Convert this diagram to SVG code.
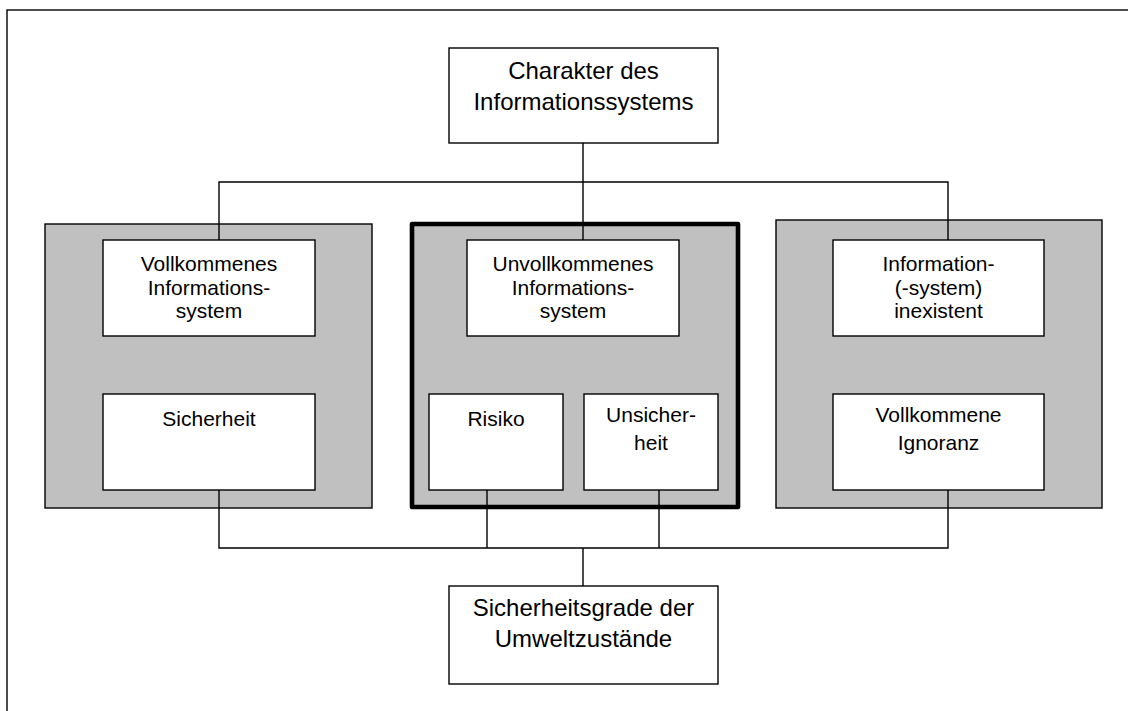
<svg xmlns="http://www.w3.org/2000/svg" width="1128" height="711" viewBox="0 0 1128 711">
<style>
.frame{fill:#ffffff;stroke:#000;stroke-width:1.4}
.panel{fill:#c0c0c0;stroke:#000;stroke-width:1.4}
.panel-bold{fill:#c0c0c0;stroke:#000;stroke-width:4.6;stroke-linejoin:round}
.box{fill:#ffffff;stroke:#000;stroke-width:1.4}
.conn{fill:none;stroke:#000;stroke-width:1.4}
text{font-family:"Liberation Sans",Arial,sans-serif;fill:#000;text-anchor:middle}
.big{font-size:24px}
.small{font-size:21px}
</style>
<rect x="0" y="0" width="1128" height="711" fill="#ffffff"/>
<rect class="frame" x="7" y="10" width="1130" height="720"/>
<g id="panel-left"><rect class="panel" x="45" y="224" width="327" height="284"/></g>
<g id="panel-middle"><rect class="panel-bold" x="412" y="224" width="326" height="283"/></g>
<g id="panel-right"><rect class="panel" x="776" y="220" width="326" height="288"/></g>
<g id="connectors">
<path class="conn" d="M219 240 V182 H948 V240 M583 143 V240"/>
<path class="conn" d="M219 490 V548 H948 V490 M487 490 V548 M659 490 V548 M583 548 V586"/>
</g>
<g id="charakter">
<rect class="box" x="449" y="48" width="269" height="95"/>
<text class="big" x="583.5" y="79">Charakter des</text>
<text class="big" x="583.5" y="110">Informationssystems</text>
</g>
<g id="vollkommenes-is">
<rect class="box" x="103" y="240" width="212" height="96"/>
<text class="small" x="209" y="271">Vollkommenes</text>
<text class="small" x="209" y="294.5">Informations-</text>
<text class="small" x="209" y="317.5">system</text>
</g>
<g id="unvollkommenes-is">
<rect class="box" x="467" y="240" width="212" height="96"/>
<text class="small" x="573" y="271">Unvollkommenes</text>
<text class="small" x="573" y="294.5">Informations-</text>
<text class="small" x="573" y="317.5">system</text>
</g>
<g id="information-inexistent">
<rect class="box" x="833" y="240" width="211" height="96"/>
<text class="small" x="938.5" y="271">Information-</text>
<text class="small" x="938.5" y="294.5">(-system)</text>
<text class="small" x="938.5" y="317.5">inexistent</text>
</g>
<g id="sicherheit">
<rect class="box" x="103" y="394" width="212" height="96"/>
<text class="small" x="209" y="426">Sicherheit</text>
</g>
<g id="risiko">
<rect class="box" x="429" y="394" width="134" height="96"/>
<text class="small" x="496" y="426">Risiko</text>
</g>
<g id="unsicherheit">
<rect class="box" x="584" y="394" width="134" height="96"/>
<text class="small" x="651" y="422">Unsicher-</text>
<text class="small" x="651" y="449.5">heit</text>
</g>
<g id="ignoranz">
<rect class="box" x="833" y="394" width="211" height="96"/>
<text class="small" x="938.5" y="422">Vollkommene</text>
<text class="small" x="938.5" y="449.5">Ignoranz</text>
</g>
<g id="sicherheitsgrade">
<rect class="box" x="449" y="586" width="269" height="98"/>
<text class="big" x="583.5" y="616">Sicherheitsgrade der</text>
<text class="big" x="583.5" y="647">Umweltzustände</text>
</g>
</svg>
